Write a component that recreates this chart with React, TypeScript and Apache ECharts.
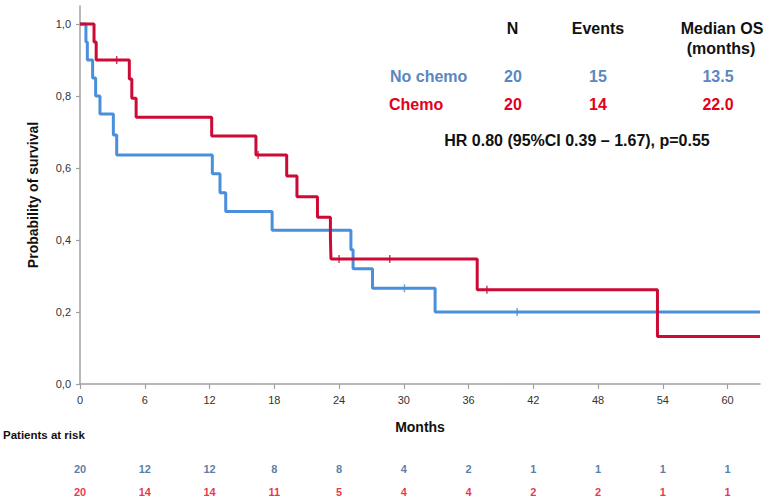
import React, { useEffect, useRef } from "react";
import * as echarts from "echarts";

const FONT = "'Liberation Sans', Arial, sans-serif";

const xTicks = [0, 6, 12, 18, 24, 30, 36, 42, 48, 54, 60];
const yTicks = [0, 0.2, 0.4, 0.6, 0.8, 1.0];

// Kaplan-Meier steps: [months, survival]
const noChemoSteps: [number, number][] = [
  [0, 1.0], [0.55, 0.95], [0.68, 0.9], [1.17, 0.85], [1.45, 0.8], [1.85, 0.75],
  [3.09, 0.692], [3.4, 0.636], [12.26, 0.584], [12.97, 0.531], [13.5, 0.479],
  [17.8, 0.427], [25.1, 0.373], [25.3, 0.32], [27.1, 0.266], [32.9, 0.2], [63, 0.2],
];
const chemoSteps: [number, number][] = [
  [0, 1.0], [1.3, 0.95], [1.5, 0.9], [4.57, 0.847], [4.8, 0.794], [5.2, 0.741],
  [12.2, 0.689], [16.3, 0.636], [19.15, 0.578], [20.1, 0.52], [22.0, 0.463],
  [23.2, 0.405], [23.25, 0.347], [36.8, 0.262], [53.5, 0.132], [63, 0.132],
];
const noChemoCensors: [number, number][] = [[30.06, 0.266], [40.5, 0.2]];
const chemoCensors: [number, number][] = [[3.4, 0.9], [16.5, 0.636], [24.0, 0.347], [28.7, 0.347], [37.7, 0.262]];

const riskMonths = [0, 6, 12, 18, 24, 30, 36, 42, 48, 54, 60];
const riskNoChemo = [20, 12, 12, 8, 8, 4, 2, 1, 1, 1, 1];
const riskChemo = [20, 14, 14, 11, 5, 4, 4, 2, 2, 1, 1];

const BLUE = "#4a8fdc";
const RED = "#cc0a35";
const TXT_BLUE = "#5b87c0";
const TXT_RED = "#e3001b";
const RISK_BLUE = "#2f5c8f";
const AXIS = "#a0a0a0";

function txt(text: string, x: number, y: number, color: string, size: number, align: string = "center") {
  return {
    type: "text",
    x,
    y,
    style: {
      text,
      fill: color,
      font: `bold ${size}px ${FONT}`,
      textAlign: align,
      textVerticalAlign: "middle",
    },
  };
}

export default function App() {
  const ref = useRef<HTMLDivElement>(null);
  useEffect(() => {
    if (!ref.current) return;
    const chart = echarts.init(ref.current, null, { renderer: "svg" });
    const option: any = {
      animation: false,
      backgroundColor: "#ffffff",
      textStyle: { fontFamily: FONT },
      grid: [
        { left: 80, right: 10, top: 6, bottom: 118 },
        { left: 80, right: 10, top: 469, height: 22.5 },
      ],
      xAxis: [
        {
          gridIndex: 0,
          type: "value",
          min: 0,
          max: 63,
          axisLine: { show: true, lineStyle: { color: AXIS, width: 1.5 } },
          axisTick: { show: true, length: 5, customValues: xTicks, lineStyle: { color: AXIS, width: 1.2 } },
          axisLabel: { customValues: xTicks, fontSize: 11, color: "#333", margin: 10, fontFamily: FONT },
          splitLine: { show: false },
          name: "Months",
          nameLocation: "middle",
          nameGap: 36,
          nameTextStyle: { fontWeight: "bold", fontSize: 14, color: "#111", fontFamily: FONT },
        },
        { gridIndex: 1, type: "value", min: 0, max: 63, show: false },
      ],
      yAxis: [
        {
          gridIndex: 0,
          type: "value",
          min: 0,
          max: 1.05,
          axisLine: { show: true, lineStyle: { color: AXIS, width: 1.5 } },
          axisTick: { show: true, length: 4, customValues: yTicks, lineStyle: { color: AXIS, width: 1.2 } },
          axisLabel: {
            customValues: yTicks,
            fontSize: 11,
            color: "#333",
            margin: 9,
            fontFamily: FONT,
            formatter: (v: number) => v.toFixed(1).replace(".", ","),
          },
          splitLine: { show: false },
          name: "Probability of survival",
          nameLocation: "middle",
          nameGap: 40,
          nameTextStyle: { fontWeight: "bold", fontSize: 14, color: "#111", fontFamily: FONT },
        },
        { gridIndex: 1, type: "value", min: 0, max: 1, show: false },
      ],
      series: [
        {
          name: "No chemo",
          type: "line",
          step: "end",
          data: noChemoSteps,
          showSymbol: false,
          lineStyle: { color: BLUE, width: 3 },
          itemStyle: { color: BLUE },
          z: 2,
        },
        {
          name: "Chemo",
          type: "line",
          step: "end",
          data: chemoSteps,
          showSymbol: false,
          lineStyle: { color: RED, width: 3 },
          itemStyle: { color: RED },
          z: 3,
        },
        {
          type: "scatter",
          data: noChemoCensors,
          symbol: "rect",
          symbolSize: [1.5, 8],
          itemStyle: { color: BLUE },
          z: 4,
        },
        {
          type: "scatter",
          data: chemoCensors,
          symbol: "rect",
          symbolSize: [1.5, 8],
          itemStyle: { color: RED },
          z: 4,
        },
        {
          type: "scatter",
          xAxisIndex: 1,
          yAxisIndex: 1,
          data: riskMonths.map((m, i) => [m, 1, riskNoChemo[i]]),
          symbolSize: 1,
          itemStyle: { color: "transparent" },
          label: {
            show: true,
            position: "inside",
            formatter: (p: any) => String(p.data[2]),
            color: RISK_BLUE,
            fontWeight: "bold",
            fontSize: 11,
            fontFamily: FONT,
          },
        },
        {
          type: "scatter",
          xAxisIndex: 1,
          yAxisIndex: 1,
          data: riskMonths.map((m, i) => [m, 0, riskChemo[i]]),
          symbolSize: 1,
          itemStyle: { color: "transparent" },
          label: {
            show: true,
            position: "inside",
            formatter: (p: any) => String(p.data[2]),
            color: TXT_RED,
            fontWeight: "bold",
            fontSize: 11,
            fontFamily: FONT,
          },
        },
      ],
      graphic: [
        txt("N", 512.5, 28, "#111", 16),
        txt("Events", 598, 28, "#111", 16),
        txt("Median OS", 722, 28, "#111", 16),
        txt("(months)", 721, 48, "#111", 16),
        txt("No chemo", 390, 76, TXT_BLUE, 16, "left"),
        txt("20", 513, 76, TXT_BLUE, 16),
        txt("15", 598, 76, TXT_BLUE, 16),
        txt("13.5", 718, 76, TXT_BLUE, 16),
        txt("Chemo", 389, 104, TXT_RED, 16, "left"),
        txt("20", 513, 104, TXT_RED, 16),
        txt("14", 598, 104, TXT_RED, 16),
        txt("22.0", 718, 104, TXT_RED, 16),
        txt("HR 0.80 (95%CI 0.39 – 1.67), p=0.55", 577, 140, "#111", 16),
        txt("Patients at risk", 3, 435, "#111", 11.5, "left"),
      ],
    };
    chart.setOption(option);
    return () => chart.dispose();
  }, []);
  return (
    <div
      ref={ref}
      style={{ position: "absolute", left: 0, top: 0, width: 770, height: 502, background: "#fff" }}
    />
  );
}
